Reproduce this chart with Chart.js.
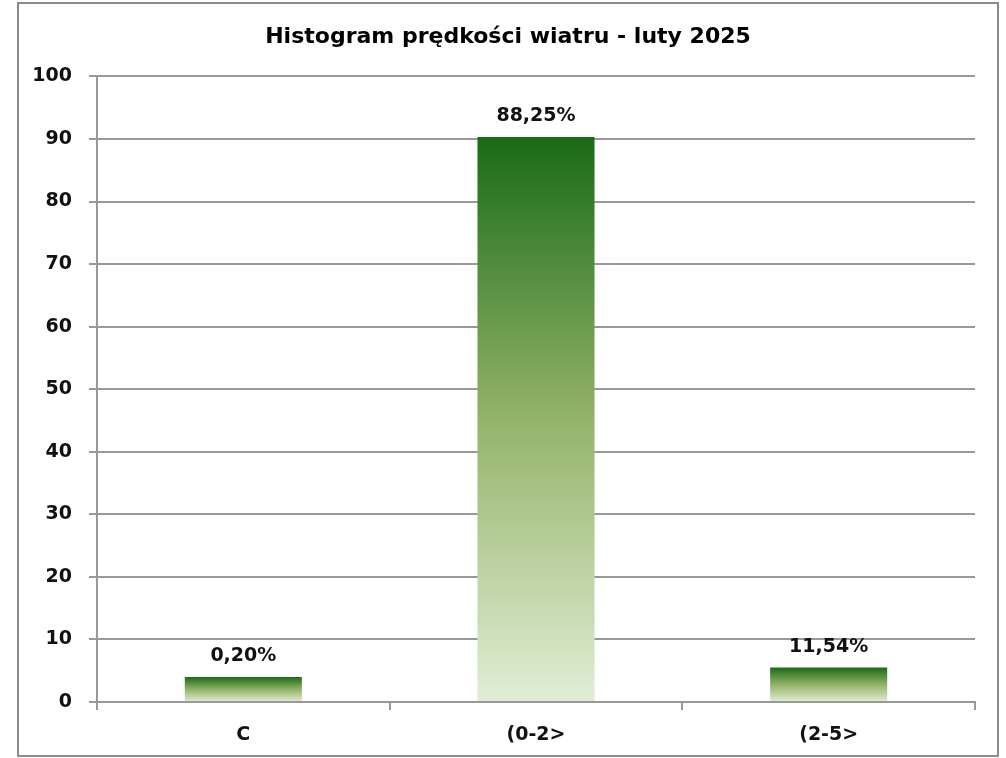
<!DOCTYPE html>
<html>
<head>
<meta charset="utf-8">
<script src="https://cdn.jsdelivr.net/npm/chart.js@4/dist/chart.umd.min.js"></script>
<style>
  body { margin: 0; background: #fff; }
  #box {
    position: absolute; left: 17px; top: 2px;
    width: 978px; height: 751px;
    border: 2px solid #8c8c8c;
  }
</style>
</head>
<body>
<div id="box"><canvas id="chart" width="978" height="751"></canvas></div>
<script>
// dane histogramu
const categories = ['C', '(0-2>', '(2-5>'];
const barValues = [4.0, 90.3, 5.5];          // wysokości słupków
const barLabels = ['0,20%', '88,25%', '11,54%'];
const yTicks = [0, 10, 20, 30, 40, 50, 60, 70, 80, 90, 100];

const tickFont = { family: 'DejaVu Sans', size: 19, weight: 'bold' };

// gradient od ciemnej zieleni (góra) do jasnej (dół) dla każdego słupka
const barGradient = (ctx) => {
  const chart = ctx.chart;
  if (!chart.chartArea || ctx.dataIndex === undefined) return '#5a8f3a';
  const y = chart.scales.y;
  const top = y.getPixelForValue(barValues[ctx.dataIndex]);
  const bottom = y.getPixelForValue(0);
  const g = chart.ctx.createLinearGradient(0, top, 0, bottom);
  g.addColorStop(0, '#196b16');
  g.addColorStop(0.5, '#94b36a');
  g.addColorStop(1, '#e1eed6');
  return g;
};

// etykiety procentowe nad słupkami
const labelPlugin = {
  id: 'barLabels',
  afterDatasetsDraw(chart) {
    const c = chart.ctx;
    const meta = chart.getDatasetMeta(0);
    c.save();
    c.font = 'bold 19px "DejaVu Sans"';
    c.fillStyle = '#111';
    c.textAlign = 'center';
    c.textBaseline = 'middle';
    meta.data.forEach((bar, i) => {
      c.fillText(barLabels[i], bar.x, bar.y - 21);
    });
    c.restore();
  }
};

new Chart(document.getElementById('chart'), {
  type: 'bar',
  data: {
    labels: categories,
    datasets: [{
      data: barValues,
      backgroundColor: barGradient,
      borderWidth: 0,
      barPercentage: 0.4,
      categoryPercentage: 1.0,
    }],
  },
  options: {
    responsive: false,
    animation: false,
    plugins: {
      legend: { display: false },
      tooltip: { enabled: false },
      title: {
        display: true,
        text: 'Histogram prędkości wiatru - luty 2025',
        color: '#000',
        font: { family: 'DejaVu Sans', size: 22, weight: 'bold' },
        padding: { top: 20, bottom: 26 },
      },
    },
    scales: {
      x: {
        offset: true,
        grid: {
          offset: true,
          drawOnChartArea: false,
          drawTicks: true,
          tickLength: 8,
          color: '#999',
          lineWidth: 2,
        },
        border: { color: '#999', width: 2 },
        ticks: { color: '#111', font: tickFont, padding: 14 },
        afterFit: (s) => { s.height = 53; },
      },
      y: {
        min: 0,
        max: 100,
        afterBuildTicks: (s) => { s.ticks = yTicks.map(v => ({ value: v })); },
        grid: { color: '#999', lineWidth: 2, tickLength: 8 },
        border: { color: '#999', width: 2 },
        ticks: { color: '#111', font: tickFont, padding: 17 },
        afterFit: (s) => { s.width = 78; },
      },
      // pusty margines po prawej stronie obszaru wykresu
      yRight: {
        position: 'right',
        grid: { display: false },
        border: { display: false },
        ticks: { display: false },
        afterFit: (s) => { s.width = 22; },
      },
    },
  },
  plugins: [labelPlugin],
});
</script>
</body>
</html>
